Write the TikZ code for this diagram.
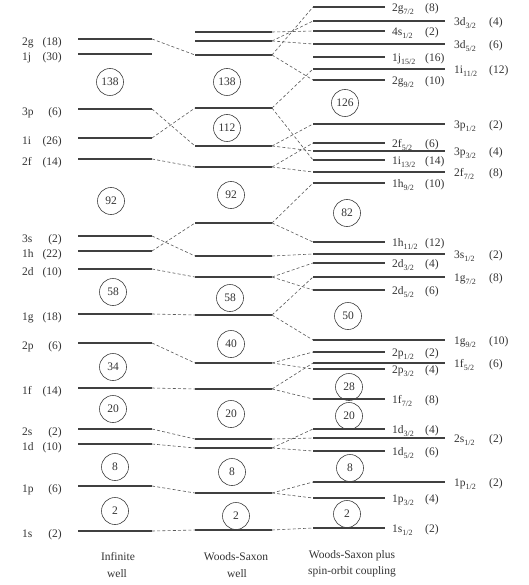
\documentclass[tikz,border=0pt]{standalone}
\usepackage{fontspec}
\setmainfont{Liberation Serif}
\newcommand\lfont{\fontsize{11.5}{13}\selectfont}
\newcommand\lsub[1]{\raisebox{-0.55ex}{\fontsize{8}{9}\selectfont #1}}
\tikzset{
  level/.style={line width=1.1pt, draw=black!75},
  conn/.style={dash pattern=on 3pt off 2.2pt, line width=0.6pt, draw=black!65},
  lab/.style={font=\lfont, text=black!80, inner sep=0pt},
  magic/.style={circle, draw=black!75, line width=0.6pt, minimum size=27pt, inner sep=0pt, font=\lfont, text=black!80}
}
% infinite well level: name, y, label, degeneracy
\newcommand\ilev[4]{%
  \coordinate (#1a) at (78,#2); \coordinate (#1b) at (152,#2);
  \draw[level] (#1a) -- (#1b);
  \node[lab,anchor=base west] (#1n) at (22,#2+6.5) {#3};
  \node[lab,anchor=base east] (#1d) at (62,#2+6.5) {#4};}
% Woods-Saxon level
\newcommand\wlev[2]{%
  \coordinate (#1a) at (195,#2); \coordinate (#1b) at (272,#2);
  \draw[level] (#1a) -- (#1b);}
% spin-orbit short level
\newcommand\slev[4]{%
  \coordinate (#1a) at (313,#2); \coordinate (#1b) at (385,#2);
  \draw[level] (#1a) -- (#1b);
  \node[lab,anchor=base west] (#1n) at (392,#2+4.5) {#3};
  \node[lab,anchor=base west] (#1d) at (425,#2+4.5) {#4};}
% spin-orbit long level
\newcommand\llev[4]{%
  \coordinate (#1a) at (313,#2); \coordinate (#1b) at (445,#2);
  \draw[level] (#1a) -- (#1b);
  \node[lab,anchor=base west] (#1n) at (454,#2+4.5) {#3};
  \node[lab,anchor=base west] (#1d) at (489,#2+4.5) {#4};}
\begin{document}
\begin{tikzpicture}[x=1pt,y=-1pt]
\useasboundingbox (0,0) rectangle (528,585);
\fill[white] (0,0) rectangle (528,585);
% ---------- Infinite well ----------
\ilev{I2g}{39}{2g}{(18)}
\ilev{I1j}{54}{1j}{(30)}
\ilev{I3p}{109}{3p}{(6)}
\ilev{I1i}{138}{1i}{(26)}
\ilev{I2f}{159}{2f}{(14)}
\ilev{I3s}{236}{3s}{(2)}
\ilev{I1h}{251}{1h}{(22)}
\ilev{I2d}{269}{2d}{(10)}
\ilev{I1g}{314}{1g}{(18)}
\ilev{I2p}{343}{2p}{(6)}
\ilev{I1f}{388}{1f}{(14)}
\ilev{I2s}{429}{2s}{(2)}
\ilev{I1d}{444}{1d}{(10)}
\ilev{I1p}{486}{1p}{(6)}
\ilev{I1s}{531}{1s}{(2)}
% ---------- Woods-Saxon ----------
\wlev{W4s}{32}
\wlev{W3d}{41}
\wlev{W2g}{55}
\wlev{W1i}{108}
\wlev{W3p}{146}
\wlev{W2f}{167}
\wlev{W1h}{223}
\wlev{W3s}{256}
\wlev{W2d}{277}
\wlev{W1g}{315}
\wlev{W2p}{363}
\wlev{W1f}{389}
\wlev{W2s}{439}
\wlev{W1d}{448}
\wlev{W1p}{493}
\wlev{W1s}{530}
% ---------- Woods-Saxon plus spin-orbit ----------
\slev{S2gs}{7}{2g\lsub{7/2}}{(8)}
\llev{S3dt}{21}{3d\lsub{3/2}}{(4)}
\slev{S4s}{31}{4s\lsub{1/2}}{(2)}
\llev{S3df}{44}{3d\lsub{5/2}}{(6)}
\slev{S1j}{57}{1j\lsub{15/2}}{(16)}
\llev{S1ie}{69}{1i\lsub{11/2}}{(12)}
\slev{S2gn}{80}{2g\lsub{9/2}}{(10)}
\llev{S3po}{124}{3p\lsub{1/2}}{(2)}
\slev{S2ff}{143}{2f\lsub{5/2}}{(6)}
\llev{S3pt}{151}{3p\lsub{3/2}}{(4)}
\slev{S1it}{160}{1i\lsub{13/2}}{(14)}
\llev{S2fs}{172}{2f\lsub{7/2}}{(8)}
\slev{S1hn}{183}{1h\lsub{9/2}}{(10)}
\slev{S1he}{242}{1h\lsub{11/2}}{(12)}
\llev{S3s}{254}{3s\lsub{1/2}}{(2)}
\slev{S2dt}{263}{2d\lsub{3/2}}{(4)}
\llev{S1gs}{277}{1g\lsub{7/2}}{(8)}
\slev{S2df}{290}{2d\lsub{5/2}}{(6)}
\llev{S1gn}{340}{1g\lsub{9/2}}{(10)}
\slev{S2po}{352}{2p\lsub{1/2}}{(2)}
\llev{S1ff}{363}{1f\lsub{5/2}}{(6)}
\slev{S2pt}{369}{2p\lsub{3/2}}{(4)}
\slev{S1fs}{399}{1f\lsub{7/2}}{(8)}
\slev{S1dt}{429}{1d\lsub{3/2}}{(4)}
\llev{S2s}{438}{2s\lsub{1/2}}{(2)}
\slev{S1df}{451}{1d\lsub{5/2}}{(6)}
\llev{S1po}{482}{1p\lsub{1/2}}{(2)}
\slev{S1pt}{498}{1p\lsub{3/2}}{(4)}
\slev{S1s}{528}{1s\lsub{1/2}}{(2)}
% ---------- connectors infinite -> WS ----------
\draw[conn] (I2gb) -- (W2ga);
\draw[conn] (I3pb) -- (W3pa);
\draw[conn] (I1ib) -- (W1ia);
\draw[conn] (I2fb) -- (W2fa);
\draw[conn] (I3sb) -- (W3sa);
\draw[conn] (I1hb) -- (W1ha);
\draw[conn] (I2db) -- (W2da);
\draw[conn] (I1gb) -- (W1ga);
\draw[conn] (I2pb) -- (W2pa);
\draw[conn] (I1fb) -- (W1fa);
\draw[conn] (I2sb) -- (W2sa);
\draw[conn] (I1db) -- (W1da);
\draw[conn] (I1pb) -- (W1pa);
\draw[conn] (I1sb) -- (W1sa);
% ---------- connectors WS -> spin-orbit ----------
\draw[conn] (W4sb) -- (S4sa);
\draw[conn] (W3db) -- (S3dta);
\draw[conn] (W3db) -- (S3dfa);
\draw[conn] (W2gb) -- (S2gsa);
\draw[conn] (W2gb) -- (S2gna);
\draw[conn] (W1ib) -- (S1iea);
\draw[conn] (W1ib) -- (S1ita);
\draw[conn] (W3pb) -- (S3poa);
\draw[conn] (W3pb) -- (S3pta);
\draw[conn] (W2fb) -- (S2ffa);
\draw[conn] (W2fb) -- (S2fsa);
\draw[conn] (W1hb) -- (S1hna);
\draw[conn] (W1hb) -- (S1hea);
\draw[conn] (W3sb) -- (S3sa);
\draw[conn] (W2db) -- (S2dta);
\draw[conn] (W2db) -- (S2dfa);
\draw[conn] (W1gb) -- (S1gsa);
\draw[conn] (W1gb) -- (S1gna);
\draw[conn] (W2pb) -- (S2poa);
\draw[conn] (W2pb) -- (S2pta);
\draw[conn] (W1fb) -- (S1ffa);
\draw[conn] (W1fb) -- (S1fsa);
\draw[conn] (W2sb) -- (S2sa);
\draw[conn] (W1db) -- (S1dta);
\draw[conn] (W1db) -- (S1dfa);
\draw[conn] (W1pb) -- (S1poa);
\draw[conn] (W1pb) -- (S1pta);
\draw[conn] (W1sb) -- (S1sa);
% ---------- magic numbers ----------
\node[magic] (mI138) at (110,82) {138};
\node[magic] (mI92) at (111,201) {92};
\node[magic] (mI58) at (113,292) {58};
\node[magic] (mI34) at (113,367) {34};
\node[magic] (mI20) at (113,409) {20};
\node[magic] (mI8) at (115,467) {8};
\node[magic] (mI2) at (115,511) {2};
\node[magic] (mW138) at (227,82) {138};
\node[magic] (mW112) at (227,128) {112};
\node[magic] (mW92) at (231,195) {92};
\node[magic] (mW58) at (230,298) {58};
\node[magic] (mW40) at (231,344) {40};
\node[magic] (mW20) at (231,414) {20};
\node[magic] (mW8) at (232,472) {8};
\node[magic] (mW2) at (236,516) {2};
\node[magic] (mS126) at (345,103) {126};
\node[magic] (mS82) at (347,213) {82};
\node[magic] (mS50) at (348,316) {50};
\node[magic] (mS28) at (349,387) {28};
\node[magic] (mS20) at (349,416) {20};
\node[magic] (mS8) at (350,468) {8};
\node[magic] (mS2) at (347,514) {2};
% ---------- column titles ----------
\node[lab,anchor=base] (t1a) at (118,560) {Infinite};
\node[lab,anchor=base] (t1b) at (117,577) {well};
\node[lab,anchor=base] (t2a) at (236,560) {Woods-Saxon};
\node[lab,anchor=base] (t2b) at (237,577) {well};
\node[lab,anchor=base] (t3a) at (352,558) {Woods-Saxon plus};
\node[lab,anchor=base] (t3b) at (352,574) {spin-orbit coupling};
\end{tikzpicture}
\end{document}
